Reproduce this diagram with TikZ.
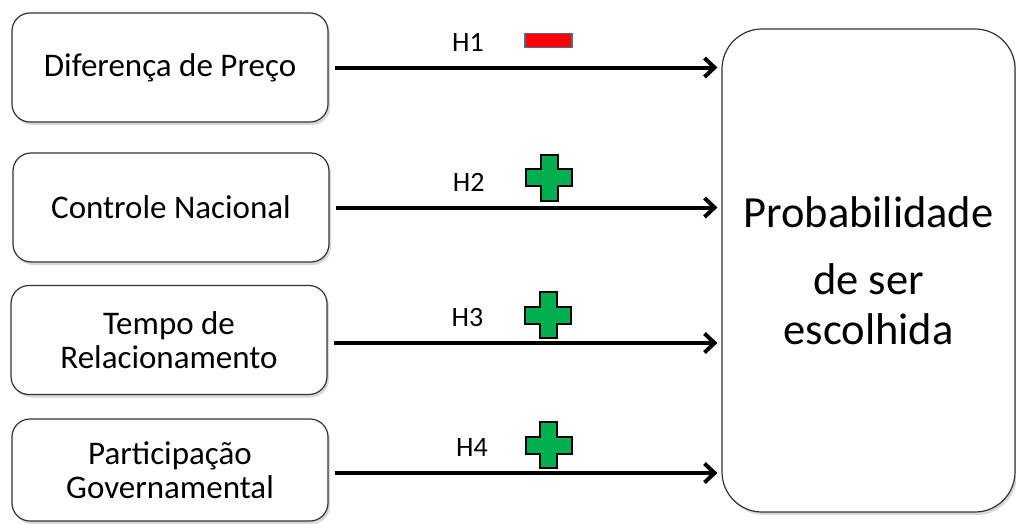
\documentclass[tikz,border=0pt]{standalone}
\usepackage{fontspec}
\setmainfont{Carlito}
\usetikzlibrary{arrows.meta,positioning,shadows}
\definecolor{pGreen}{RGB}{0,176,80}
\definecolor{pRed}{RGB}{255,0,0}
\definecolor{pBlue}{RGB}{79,106,143}
\definecolor{pEdge}{gray}{0.2}
\tikzset{
    fbox/.style={rectangle, rounded corners=18pt, draw=pEdge, line width=1.2pt, fill=white,
        minimum width=316pt, minimum height=109pt, align=center, inner sep=0pt,
        font=\fontsize{33}{34}\selectfont,
        drop shadow={shadow xshift=2pt, shadow yshift=-3pt, opacity=0.3, fill=gray}},
    pbox/.style={fbox, rounded corners=40pt, minimum width=293pt, minimum height=483pt,
        font=\fontsize{44.5}{50}\selectfont},
    hyp/.style={-{Straight Barb[length=10pt,width=19pt]}, line width=4pt, shorten <=6pt, shorten >=4pt},
    hlab/.style={font=\fontsize{28}{30}\selectfont, inner sep=0pt},
    plus/.pic={\draw[black, line width=2pt, fill=pGreen] (-8.5,-23) -- (8.5,-23) -- (8.5,-8.5) -- (23,-8.5)
        -- (23,8.5) -- (8.5,8.5) -- (8.5,23) -- (-8.5,23) -- (-8.5,8.5) -- (-23,8.5) -- (-23,-8.5) -- (-8.5,-8.5) -- cycle;},
    minus/.pic={\draw[pBlue, line width=1.5pt, fill=pRed] (-23.5,-7) rectangle (23.5,7);}
}
\begin{document}
\begin{tikzpicture}[x=1pt,y=-1pt]
\useasboundingbox (0,0) rectangle (1016,523);
% factors
\node[fbox] (diff)  at (170,67.5)  {Diferença de Preço};
\node[fbox] (ctrl)  at (171,207.5) {Controle Nacional};
\node[fbox] (tempo) at (169,340)   {Tempo de\\Relacionamento};
\node[fbox, minimum height=102pt] (part) at (170,470) {Participação\\Governamental};
% outcome
\node[pbox] (prob) at (868.5,270.5) {Probabilidade\\[17pt]de ser\\escolhida};
% hypotheses
\draw[hyp] (diff) -- (diff -| prob.west)
    node[hlab, pos=0.355, above=14pt] {H1} pic[pos=0.56, yshift=27pt] {minus};
\draw[hyp] (ctrl) -- (ctrl -| prob.west)
    node[hlab, pos=0.355, above=14pt] {H2} pic[pos=0.56, yshift=30pt] {plus};
\draw[hyp] (tempo.east |- 0,343) -- (prob.west |- 0,343)
    node[hlab, pos=0.355, above=14pt] {H3} pic[pos=0.56, yshift=28pt] {plus};
\draw[hyp] (part.east |- 0,473) -- (prob.west |- 0,473)
    node[hlab, pos=0.365, above=15pt] {H4} pic[pos=0.56, yshift=28pt] {plus};
\end{tikzpicture}
\end{document}
